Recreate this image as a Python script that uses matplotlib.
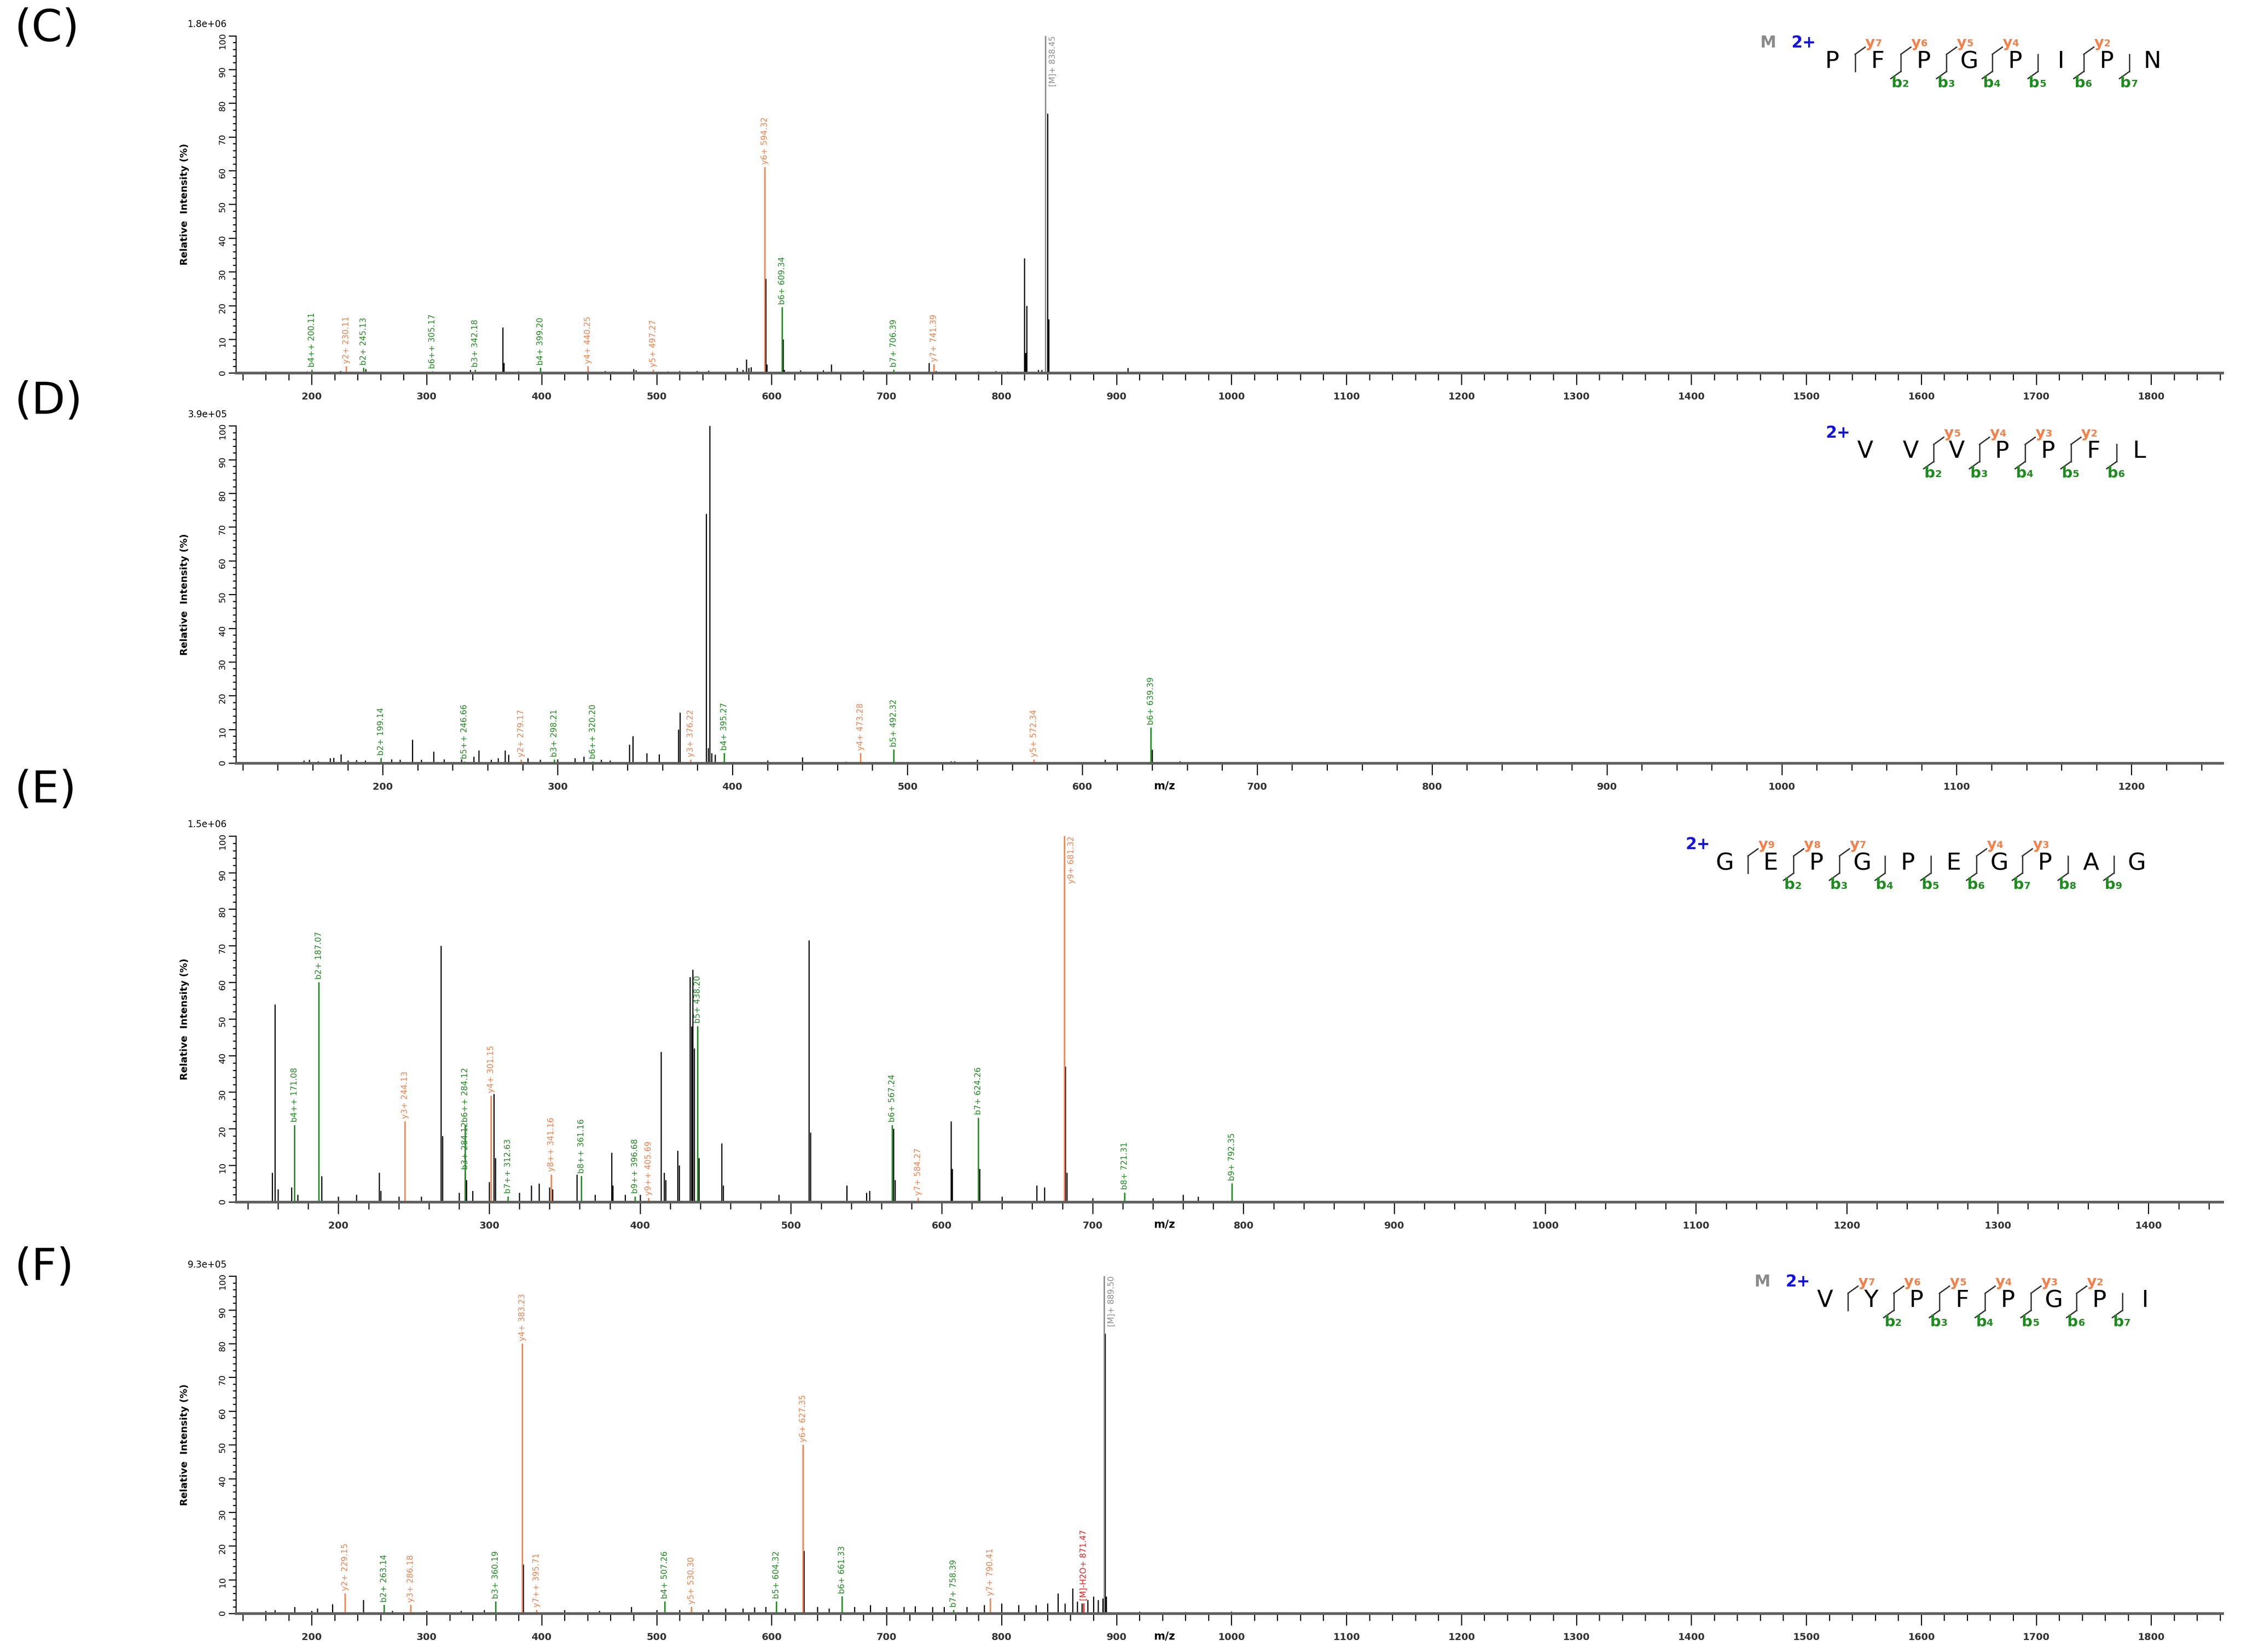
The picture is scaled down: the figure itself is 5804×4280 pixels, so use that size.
import matplotlib
matplotlib.use("Agg")
import matplotlib.pyplot as plt
from matplotlib.lines import Line2D
from matplotlib.ticker import MultipleLocator

W, H = 1568.0, 1156.0
GREEN = '#1e8c1e'; ORANGE = '#f5804a'; GRAY = '#8a8a8a'; RED = '#ff1a1a'; BLUE = '#1010ee'

C_ann = [("b4++ 200.11", 200.11, 1.0, 'b'), ("y2+ 230.11", 230.11, 2.0, 'y'), ("b2+ 245.13", 245.13, 1.5, 'b'),
         ("b6++ 305.17", 305.17, 0.5, 'b'), ("b3+ 342.18", 342.18, 1.0, 'b'), ("b4+ 399.20", 399.20, 1.5, 'b'),
         ("y4+ 440.25", 440.25, 2.0, 'y'), ("y5+ 497.27", 497.27, 1.0, 'y'), ("y6+ 594.32", 594.32, 61, 'y'),
         ("b6+ 609.34", 609.34, 19.5, 'b'), ("b7+ 706.39", 706.39, 1.0, 'b'), ("y7+ 741.39", 741.39, 2.5, 'y'),
         ("[M]+ 838.45", 838.45, 100, 'm')]
C_mz = [152, 160, 170, 185, 196, 210, 225, 247, 262, 278, 290, 300, 318, 330, 338, 366, 367, 380, 390, 410, 425,
        455, 462, 480, 482, 510, 520, 535, 545, 570, 575, 578, 580, 582, 595, 596, 610, 611, 625, 645, 652, 680,
        700, 737, 743, 780, 795, 805, 820, 821, 822, 832, 835, 840, 841, 860, 890, 910]
C_int = [0.4, 0.5, 0.3, 0.4, 0.5, 0.3, 0.6, 1.2, 0.3, 0.3, 0.3, 0.4, 0.4, 0.3, 1.0, 13.5, 3.0, 0.5, 0.4, 0.3, 0.4,
         0.6, 0.5, 1.2, 0.8, 0.5, 0.6, 0.6, 0.7, 1.5, 1.0, 4.0, 1.5, 1.8, 28, 2.5, 10, 1.0, 0.8, 0.8, 2.5, 0.8,
         0.4, 3.0, 0.6, 0.5, 0.6, 0.5, 34, 6.0, 20, 1.0, 1.0, 77, 16, 0.3, 0.3, 1.5]

D_ann = [("b2+ 199.14", 199.14, 1.5, 'b'), ("b5++ 246.66", 246.66, 0.5, 'b'), ("y2+ 279.17", 279.17, 1.0, 'y'),
         ("b3+ 298.21", 298.21, 1.0, 'b'), ("b6++ 320.20", 320.20, 0.5, 'b'), ("y3+ 376.22", 376.22, 1.0, 'y'),
         ("b4+ 395.27", 395.27, 3.0, 'b'), ("y4+ 473.28", 473.28, 3.0, 'y'), ("b5+ 492.32", 492.32, 4.0, 'b'),
         ("y5+ 572.34", 572.34, 1.0, 'y'), ("b6+ 639.39", 639.39, 10.5, 'b')]
D_mz = [155, 158, 163, 170, 172, 176, 180, 185, 190, 205, 210, 217, 222, 229, 235, 245, 252, 255, 262, 266, 270,
        272, 283, 290, 300, 310, 315, 325, 330, 341, 343, 351, 358, 369, 370, 385, 386, 387, 388, 390, 420, 440,
        465, 525, 527, 540, 598, 613, 640, 656]
D_int = [0.8, 1.0, 0.6, 1.5, 1.6, 2.7, 0.8, 0.9, 0.8, 1.2, 1.0, 7.0, 1.0, 3.5, 1.2, 1.2, 2.0, 3.8, 1.0, 1.5, 3.8,
         2.5, 1.5, 1.0, 1.2, 1.5, 2.0, 1.0, 0.8, 5.5, 8.0, 3.0, 2.7, 10, 15, 74, 4.5, 100, 3.0, 2.5, 0.8, 1.7,
         0.5, 0.6, 0.6, 1.0, 0.4, 1.0, 4.0, 0.6]

E_ann = [("b4++ 171.08", 171.08, 21, 'b'), ("b2+ 187.07", 187.07, 60, 'b'), ("y3+ 244.13", 244.13, 22, 'y'),
         ("b3+ 284.12", 284.12, 8, 'b'), ("b6++ 284.12", 284.12, 21, 'b'), ("y4+ 301.15", 301.15, 29, 'y'),
         ("b7++ 312.63", 312.63, 1.5, 'b'), ("y8++ 341.16", 341.16, 7.5, 'y'), ("b8++ 361.16", 361.16, 7, 'b'),
         ("b9++ 396.68", 396.68, 1.5, 'b'), ("y9++ 405.69", 405.69, 1, 'y'), ("b5+ 438.20", 438.20, 48, 'b'),
         ("b6+ 567.24", 567.24, 21, 'b'), ("y7+ 584.27", 584.27, 1, 'y'), ("b7+ 624.26", 624.26, 23, 'b'),
         ("y9+ 681.32", 681.32, 100, 'y'), ("b8+ 721.31", 721.31, 2.5, 'b'), ("b9+ 792.35", 792.35, 5, 'b')]
E_mz = [156, 158, 160, 169, 173, 189, 200, 212, 227, 228, 240, 255, 268, 269, 280, 285, 289, 300, 303, 304, 320,
        328, 333, 340, 342, 358, 370, 381, 382, 390, 400, 414, 416, 417, 425, 426, 433, 434, 435, 436, 439, 454,
        455, 492, 512, 513, 537, 550, 552, 568, 569, 606, 607, 625, 640, 663, 668, 682, 683, 700, 740, 760, 770]
E_int = [8, 54, 3.5, 4, 2, 7, 1.5, 2, 8, 3, 1.5, 1.5, 70, 18, 2.5, 6, 3, 5.5, 29.5, 12, 2.5, 4.5, 5, 4, 3.5, 7.5,
         2, 13.5, 4.5, 2, 2, 41, 8, 6, 14, 10, 61.5, 48, 63.5, 42, 12, 16, 4.5, 2, 71.5, 19, 4.5, 2.5, 3, 20, 6,
         22, 9, 9, 1.5, 4.5, 4, 37, 8, 1, 1, 2, 1.5]

F_ann = [("y2+ 229.15", 229.15, 6, 'y'), ("b2+ 263.14", 263.14, 2.5, 'b'), ("y3+ 286.18", 286.18, 2.5, 'y'),
         ("b3+ 360.19", 360.19, 3.5, 'b'), ("y4+ 383.23", 383.23, 80, 'y'), ("y7++ 395.71", 395.71, 1, 'y'),
         ("b4+ 507.26", 507.26, 3.5, 'b'), ("y5+ 530.30", 530.30, 2, 'y'), ("b5+ 604.32", 604.32, 3.5, 'b'),
         ("y6+ 627.35", 627.35, 50, 'y'), ("b6+ 661.33", 661.33, 5, 'b'), ("b7+ 758.39", 758.39, 1, 'b'),
         ("y7+ 790.41", 790.41, 4.5, 'y'), ("[M]-H2O+ 871.47", 871.47, 3, 'r'), ("[M]+ 889.50", 889.50, 100, 'm')]
F_mz = [160, 168, 185, 200, 205, 218, 245, 270, 300, 330, 350, 384, 420, 450, 478, 500, 520, 545, 560, 575, 585,
        595, 612, 628, 640, 650, 672, 686, 700, 715, 725, 740, 750, 770, 785, 800, 815, 830, 840, 849, 855, 862,
        866, 870, 875, 880, 884, 888, 890, 891, 920, 960, 1000, 1050, 1100, 1200, 1300, 1450]
F_int = [0.8, 1.0, 2.0, 0.8, 1.5, 2.7, 4.0, 0.8, 0.8, 0.8, 1.0, 14.5, 1.0, 0.8, 2.0, 1.0, 1.0, 1.2, 1.5, 1.5, 1.8,
         2.0, 1.5, 18.5, 2.0, 1.5, 2.0, 2.5, 2.0, 2.0, 2.2, 2.0, 2.0, 2.0, 2.5, 3.0, 2.5, 2.5, 3.0, 6.0, 3.0, 7.5,
         3.5, 3.0, 4.0, 5.0, 4.0, 4.5, 83, 5.0, 0.6, 0.5, 0.6, 0.4, 0.5, 0.4, 0.3, 0.3]

C_seq = ("PFPGPIPN", {0: '7', 1: '6', 2: '5', 3: '4', 5: '2'}, {1: '2', 2: '3', 3: '4', 4: '5', 5: '6', 6: '7'}, True)
D_seq = ("VVVPPFL", {1: '5', 2: '4', 3: '3', 4: '2'}, {1: '2', 2: '3', 3: '4', 4: '5', 5: '6'}, False)
E_seq = ("GEPGPEGPAG", {0: '9', 1: '8', 2: '7', 5: '4', 6: '3'}, {1: '2', 2: '3', 3: '4', 4: '5', 5: '6', 6: '7', 7: '8', 8: '9'}, False)
F_seq = ("VYPFPGPI", {0: '7', 1: '6', 2: '5', 3: '4', 4: '3', 5: '2'}, {1: '2', 2: '3', 3: '4', 4: '5', 5: '6', 6: '7'}, True)

panels = [
    dict(tag="(C)", scale="1.8e+06", ann=C_ann, mz=C_mz, it=C_int, xlim=(134, 1862), top=25, bot=261, seq=C_seq,
         seqx=1282, seqy=43, mx=1237, cx=1262, mzlab=False, lety=20, xmax=1800),
    dict(tag="(D)", scale="3.9e+05", ann=D_ann, mz=D_mz, it=D_int, xlim=(116, 1252), top=298, bot=534, seq=D_seq,
         seqx=1305, seqy=316, mx=None, cx=1286, mzlab=True, lety=281, xmax=1200),
    dict(tag="(E)", scale="1.5e+06", ann=E_ann, mz=E_mz, it=E_int, xlim=(132, 1449), top=585, bot=841, seq=E_seq,
         seqx=1207, seqy=604, mx=None, cx=1188, mzlab=True, lety=553, xmax=1400),
    dict(tag="(F)", scale="9.3e+05", ann=F_ann, mz=F_mz, it=F_int, xlim=(134, 1862), top=893, bot=1129, seq=F_seq,
         seqx=1277, seqy=910, mx=1233, cx=1258, mzlab=True, lety=887, xmax=1800),
]

colmap = {'b': GREEN, 'y': ORANGE, 'm': GRAY, 'r': RED}

fig = plt.figure(figsize=(58.04, 42.80), dpi=100)
fx = lambda x: x / W
fy = lambda y: 1 - y / H

for p in panels:
    ax = fig.add_axes([fx(165), fy(p['bot']), fx(1555) - fx(165), (p['bot'] - p['top']) / H])
    ax.vlines(p['mz'], 0, p['it'], color='black', lw=2.2)
    for lab, m, v, k in p['ann']:
        ax.vlines([m], 0, [v], color=colmap[k], lw=2.6)
        if v > 85:
            ax.annotate(lab, (m, v), xytext=(6, 0), textcoords='offset points', rotation=90,
                        ha='left', va='top', fontsize=15, color=colmap[k])
        else:
            ax.text(m, v + 0.8, lab, rotation=90, ha='center', va='bottom', fontsize=15, color=colmap[k])
    ax.set_xlim(*p['xlim']); ax.set_ylim(0, 100)
    for s in ['top', 'right']:
        ax.spines[s].set_visible(False)
    ax.spines['bottom'].set_color('#606060'); ax.spines['bottom'].set_linewidth(5)
    ax.spines['left'].set_linewidth(2)
    ax.xaxis.set_major_locator(MultipleLocator(100)); ax.xaxis.set_minor_locator(MultipleLocator(20))
    ax.yaxis.set_major_locator(MultipleLocator(10)); ax.yaxis.set_minor_locator(MultipleLocator(2))
    ax.set_xticks([t for t in range(200, p['xmax'] + 1, 100)])
    ax.tick_params(axis='x', which='major', length=22, width=2, labelsize=18, pad=14)
    ax.tick_params(axis='x', which='minor', length=14, width=2)
    ax.tick_params(axis='y', which='major', length=14, width=2, labelsize=16, labelrotation=90)
    ax.tick_params(axis='y', which='minor', length=6, width=2)
    for t in ax.get_xticklabels():
        t.set_fontweight('bold'); t.set_color('#333333')
    ax.set_ylabel("Relative  Intensity (%)", fontsize=18, fontweight='bold', labelpad=55)
    fig.text(fx(145), fy(p['top'] - 8), p['scale'], fontsize=17, ha='center', va='center')
    fig.text(fx(10), fy(p['lety']), p['tag'], fontsize=82, ha='left', va='center')
    if p['mzlab']:
        fig.text(fx(815), fy(p['bot'] + 16), "m/z", fontsize=20, fontweight='bold', ha='center', va='center')

    letters, yions, bions, showm = p['seq']
    sp = 32.0
    x0, yc = p['seqx'], p['seqy']
    if showm:
        fig.text(fx(p['mx']), fy(yc - 13), "M", fontsize=30, fontweight='bold', color=GRAY, ha='center', va='center')
    fig.text(fx(p['cx']), fy(yc - 13), "2+", fontsize=30, fontweight='bold', color=BLUE, ha='center', va='center')
    for i, L in enumerate(letters):
        fig.text(fx(x0 + i * sp), fy(yc), L, fontsize=44, ha='center', va='center')
    seps = sorted(set(yions) | set(bions))
    for s in seps:
        sx = x0 + (s + 0.5) * sp
        fig.add_artist(Line2D([fx(sx), fx(sx)], [fy(yc - 5), fy(yc + 7)], color='#333333', lw=2.5))
        if s in yions:
            fig.add_artist(Line2D([fx(sx), fx(sx + 7)], [fy(yc - 5), fy(yc - 10)], color='#333333', lw=2.5))
            fig.text(fx(sx + 14), fy(yc - 13), "y", fontsize=28, fontweight='bold', color=ORANGE, ha='right', va='center')
            fig.text(fx(sx + 14), fy(yc - 12.5), yions[s], fontsize=18, fontweight='bold', color=ORANGE, ha='left', va='center')
        if s in bions:
            fig.add_artist(Line2D([fx(sx), fx(sx - 7)], [fy(yc + 7), fy(yc + 12)], color='#333333', lw=2.5))
            fig.text(fx(sx + 1), fy(yc + 15), "b", fontsize=28, fontweight='bold', color=GREEN, ha='right', va='center')
            fig.text(fx(sx + 1), fy(yc + 16), bions[s], fontsize=18, fontweight='bold', color=GREEN, ha='left', va='center')

fig.savefig("out.png", dpi=100)
